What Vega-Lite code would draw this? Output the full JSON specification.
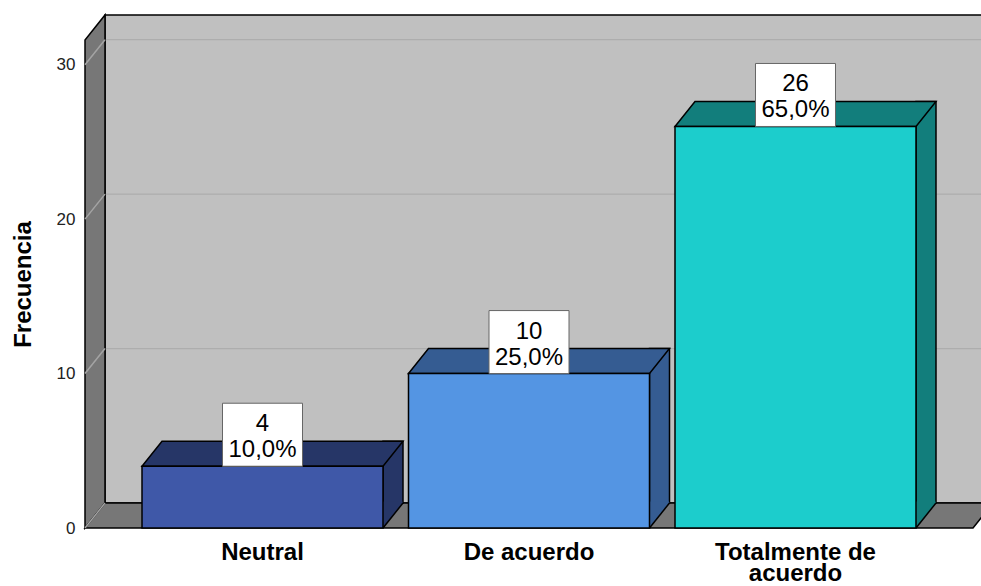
{
  "$schema": "https://vega.github.io/schema/vega-lite/v6.json",
  "width": 888,
  "height": 488,
  "autosize": {"type": "none"},
  "padding": {"left": 85, "top": 40, "right": 8, "bottom": 58},
  "background": "white",
  "config": {"view": {"stroke": null}, "font": "Liberation Sans"},
  "data": {"values": [
    {"cat": "Neutral", "count": 4, "pct": "10,0%"},
    {"cat": "De acuerdo", "count": 10, "pct": "25,0%"},
    {"cat": "Totalmente de acuerdo", "count": 26, "pct": "65,0%"}
  ]},
  "resolve": {"scale": {"color": "independent"}},
  "encoding": {
    "x": {
      "field": "cat", "type": "nominal", "title": null,
      "scale": {"domain": ["Neutral", "De acuerdo", "Totalmente de acuerdo"], "paddingInner": 0.0957, "paddingOuter": 0.2139},
      "axis": {
        "title": null, "domain": false, "ticks": false, "grid": false,
        "labelFontSize": 24, "labelFontWeight": "bold", "labelColor": "black",
        "labelPadding": 12, "labelLineHeight": 21, "labelAngle": 0,
        "labelExpr": "datum.label == 'Totalmente de acuerdo' ? ['Totalmente de', 'acuerdo'] : datum.label"
      }
    },
    "y": {
      "field": "count", "type": "quantitative",
      "scale": {"domain": [0, 31.6], "nice": false, "zero": true},
      "axis": {
        "title": "Frecuencia", "values": [0, 10, 20, 30], "domain": false, "ticks": false, "grid": false,
        "labelFontSize": 17, "labelColor": "#222", "labelPadding": 10,
        "titleFontSize": 24, "titleFontWeight": "bold", "titleColor": "black",
        "titleX": -62, "titleY": 244, "titleAngle": -90, "titleAlign": "center", "titleBaseline": "middle"
      }
    }
  },
  "layer": [
    {
      "data": {"values": [{"base": 0}]},
      "mark": {"type": "rect", "fill": "#c0c0c0", "stroke": "black", "strokeWidth": 1.5, "xOffset": 20, "x2Offset": 20, "yOffset": -25, "y2Offset": -25},
      "encoding": {"x": {"value": 0}, "x2": {"value": "width"}, "y": {"field": "base", "type": "quantitative"}, "y2": {"value": 0}}
    },
    {
      "data": {"values": [{"v": 10}, {"v": 20}, {"v": 30}]},
      "mark": {"type": "rule", "color": "#adadad", "strokeWidth": 1.2, "xOffset": 20, "x2Offset": 20, "yOffset": -25, "y2Offset": -25},
      "encoding": {"x": {"value": 0}, "x2": {"value": "width"}, "y": {"field": "v", "type": "quantitative"}, "y2": {"field": "v"}}
    },
    {
      "data": {"values": [{"base": 0}]},
      "mark": {"type": "point", "shape": "M0,0 L0,-488 L20,-513 L20,-25 Z", "size": 4, "filled": true, "opacity": 1, "stroke": "black", "strokeWidth": 1.5},
      "encoding": {"x": {"value": 0}, "y": {"field": "base", "type": "quantitative"}, "color": {"value": "#777777"}}
    },
    {
      "data": {"values": [{"base": 0}]},
      "mark": {"type": "point", "shape": "M0,0 L20,-25 L908,-25 L888,0 Z", "size": 4, "filled": true, "opacity": 1, "stroke": "black", "strokeWidth": 1.5},
      "encoding": {"x": {"value": 0}, "y": {"field": "base", "type": "quantitative"}, "color": {"value": "#777777"}}
    },
    {
      "data": {"values": [{"v": 0}, {"v": 10}, {"v": 20}, {"v": 30}]},
      "mark": {"type": "rule", "color": "#a4a4a4", "strokeWidth": 1.5, "y2Offset": -25},
      "encoding": {"x": {"value": 0}, "x2": {"value": 20}, "y": {"field": "v", "type": "quantitative"}, "y2": {"field": "v"}}
    },
    {
      "mark": {"type": "bar", "width": 20, "xOffset": 130.5, "yOffset": -25, "y2Offset": -25, "stroke": "black", "strokeWidth": 1.5, "opacity": 1},
      "encoding": {
        "y2": {"datum": 0},
        "color": {"field": "cat", "type": "nominal", "scale": {"domain": ["Neutral", "De acuerdo", "Totalmente de acuerdo"], "range": ["#263667", "#355c92", "#127e7c"]}, "legend": null}
      }
    },
    {
      "mark": {"type": "point", "shape": "M120.5,0 L140.5,-25 L139.8,-26.5 L120.5,-26.5 Z", "size": 4, "filled": true, "opacity": 1, "strokeWidth": 0},
      "encoding": {
        "y": {"datum": 0},
        "color": {"field": "cat", "type": "nominal", "scale": {"domain": ["Neutral", "De acuerdo", "Totalmente de acuerdo"], "range": ["#263667", "#355c92", "#127e7c"]}, "legend": null}
      }
    },
    {
      "mark": {"type": "point", "shape": "M120.5,0 L140.5,-25", "size": 4, "filled": false, "opacity": 1, "fill": null, "stroke": "black", "strokeWidth": 1.5},
      "encoding": {"y": {"datum": 0}}
    },
    {
      "mark": {"type": "point", "shape": "M-120.5,0 L-100.5,-25 L140.5,-25 L120.5,0 Z", "size": 4, "filled": true, "opacity": 1, "stroke": "black", "strokeWidth": 1.5},
      "encoding": {
        "color": {"field": "cat", "type": "nominal", "scale": {"domain": ["Neutral", "De acuerdo", "Totalmente de acuerdo"], "range": ["#263667", "#355c92", "#127e7c"]}, "legend": null}
      }
    },
    {
      "mark": {"type": "bar", "stroke": "black", "strokeWidth": 1.5, "opacity": 1},
      "encoding": {
        "y2": {"datum": 0},
        "color": {"field": "cat", "type": "nominal", "scale": {"domain": ["Neutral", "De acuerdo", "Totalmente de acuerdo"], "range": ["#3f58a8", "#5495e3", "#1ccdcc"]}, "legend": null}
      }
    },
    {
      "mark": {"type": "bar", "width": 80, "y2Offset": -63, "fill": "white", "stroke": "#666666", "strokeWidth": 1, "opacity": 1},
      "encoding": {"y2": {"field": "count"}}
    },
    {
      "mark": {"type": "text", "fontSize": 24, "dy": -35, "baseline": "alphabetic", "align": "center", "color": "black"},
      "encoding": {"text": {"field": "count", "type": "quantitative"}}
    },
    {
      "mark": {"type": "text", "fontSize": 24, "dy": -9, "baseline": "alphabetic", "align": "center", "color": "black"},
      "encoding": {"text": {"field": "pct", "type": "nominal"}}
    }
  ]
}
